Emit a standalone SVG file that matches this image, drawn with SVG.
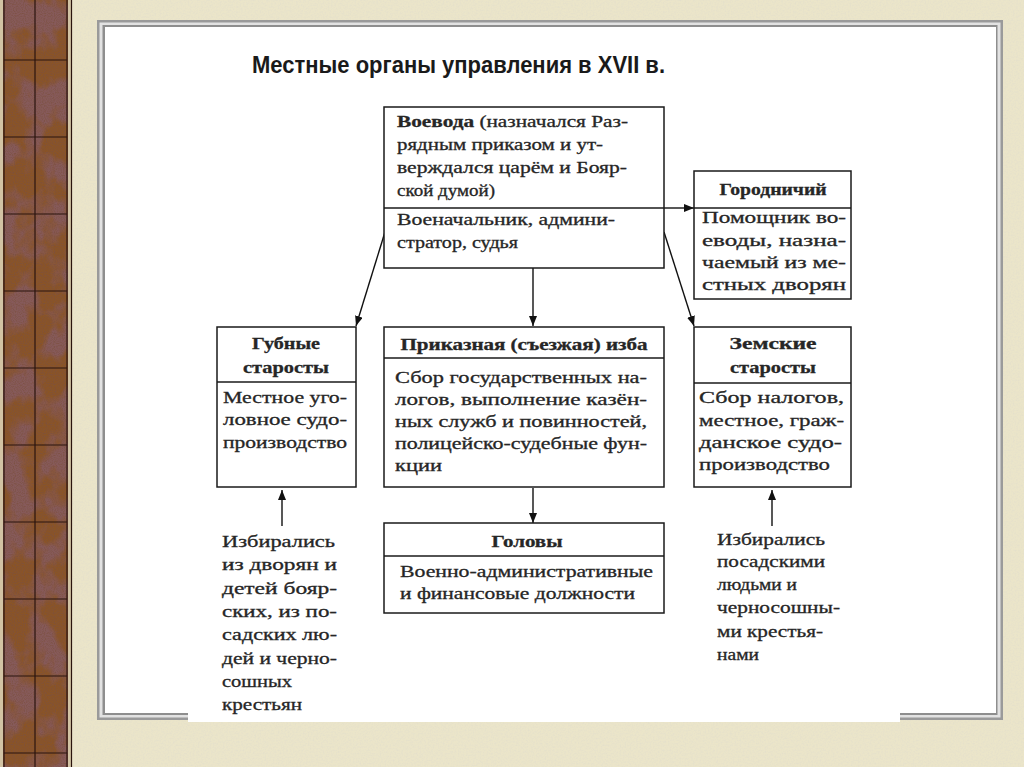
<svg xmlns="http://www.w3.org/2000/svg" width="1024" height="767" viewBox="0 0 1024 767">
<style>
.box{fill:#fff;stroke:#1a1a1a;stroke-width:1.5}
.div{stroke:#1a1a1a;stroke-width:1.5}
.t{font-family:"Liberation Serif","DejaVu Serif",serif;font-size:16px;fill:#262626;stroke:#262626;stroke-width:0.3}
.b{font-weight:bold}
.c{text-anchor:middle}
.conn{stroke:#111;stroke-width:1.4;fill:none}
.grid{stroke:#2a140e;stroke-width:1.2}
</style>
<defs>
<marker id="ah" viewBox="0 0 10 8" refX="10" refY="4" markerWidth="10" markerHeight="8" markerUnits="userSpaceOnUse" orient="auto">
<path d="M0,0 L10,4 L0,8 z" fill="#111"/>
</marker>
<filter id="mottle" x="0" y="0" width="100%" height="100%">
<feTurbulence type="fractalNoise" baseFrequency="0.035 0.025" numOctaves="4" seed="5"/>
<feColorMatrix type="matrix" values="0 0 0 0 0.24  0 0 0 0 0.1  0 0 0 0 0.1  5 0 0 0 -2.1"/>
<feComposite in2="SourceGraphic" operator="in"/>
</filter>
<filter id="grain" x="0" y="0" width="100%" height="100%">
<feTurbulence type="fractalNoise" baseFrequency="0.9" numOctaves="1" seed="8"/>
<feColorMatrix type="matrix" values="0 0 0 0 0.2  0 0 0 0 0.08  0 0 0 0 0.05  2 0 0 0 -0.8"/>
<feComposite in2="SourceGraphic" operator="in"/>
</filter>
<filter id="paper" x="0" y="0" width="100%" height="100%">
<feTurbulence type="fractalNoise" baseFrequency="0.6" numOctaves="2" seed="2"/>
<feColorMatrix type="matrix" values="0 0 0 0 0.75  0 0 0 0 0.72  0 0 0 0 0.6  1.2 0 0 0 -0.45"/>
<feComposite in2="SourceGraphic" operator="in"/>
</filter>
</defs>

<!-- background -->
<g id="background">
<rect x="0" y="0" width="1024" height="767" fill="#ebe5c9"/>
<rect x="72" y="0" width="952" height="767" fill="#000" filter="url(#paper)"/>
</g>

<!-- left decorative strip -->
<g id="strip">
<rect x="0" y="0" width="72" height="767" fill="#8a5426"/>
<rect x="0" y="0" width="72" height="767" fill="#000" filter="url(#mottle)"/>
<rect x="0" y="0" width="72" height="767" fill="#000" filter="url(#grain)"/>
<rect x="0" y="0" width="3" height="767" fill="#d2c3a4"/>
<line class="grid" x1="4" y1="0" x2="4" y2="767"/>
<line class="grid" x1="67" y1="0" x2="67" y2="767"/>
<rect x="68" y="0" width="3" height="767" fill="#d2c3a4"/>
<line class="grid" x1="71.5" y1="0" x2="71.5" y2="767"/>
<line class="grid" x1="35" y1="0" x2="35" y2="767"/>
<line class="grid" x1="4" y1="60" x2="67" y2="60"/>
<line class="grid" x1="4" y1="137" x2="67" y2="137"/>
<line class="grid" x1="4" y1="214" x2="67" y2="214"/>
<line class="grid" x1="4" y1="291" x2="67" y2="291"/>
<line class="grid" x1="4" y1="368" x2="67" y2="368"/>
<line class="grid" x1="4" y1="445" x2="67" y2="445"/>
<line class="grid" x1="4" y1="522" x2="67" y2="522"/>
<line class="grid" x1="4" y1="599" x2="67" y2="599"/>
<line class="grid" x1="4" y1="676" x2="67" y2="676"/>
<line class="grid" x1="4" y1="753" x2="67" y2="753"/>
</g>

<!-- frame -->
<g id="frame">
<rect x="97" y="20" width="906" height="700" fill="#9a9a9a"/>
<rect x="99.5" y="22.5" width="901" height="695" fill="#e2e2e2"/>
<rect x="102.5" y="25" width="895" height="690" fill="#8e8e8e"/>
<rect x="105" y="27" width="891" height="686" fill="#ffffff"/>
<rect x="188" y="700" width="712" height="22" fill="#ffffff"/>
</g>

<text id="title" x="252" y="73" font-family="'Liberation Sans Narrow','Liberation Sans',Arial,sans-serif" font-weight="bold" font-size="23" fill="#1a1a1a" textLength="413" lengthAdjust="spacingAndGlyphs">Местные органы управления в XVII в.</text>

<!-- connectors -->
<g id="connectors">
<line class="conn" x1="664" y1="208" x2="694" y2="208" marker-end="url(#ah)"/>
<line class="conn" x1="533" y1="268" x2="533" y2="326" marker-end="url(#ah)"/>
<line class="conn" x1="385" y1="232" x2="356" y2="326" marker-end="url(#ah)"/>
<line class="conn" x1="664" y1="232" x2="694" y2="326" marker-end="url(#ah)"/>
<line class="conn" x1="533" y1="488" x2="533" y2="523" marker-end="url(#ah)"/>
<line class="conn" x1="282" y1="526" x2="282" y2="490" marker-end="url(#ah)"/>
<line class="conn" x1="772" y1="526" x2="772" y2="490" marker-end="url(#ah)"/>
</g>

<!-- Voevoda -->
<g id="voevoda">
<rect class="box" x="384" y="107" width="280" height="161"/>
<line class="div" x1="384" y1="208" x2="664" y2="208"/>
<text class="t" x="397" y="127" textLength="231" lengthAdjust="spacingAndGlyphs"><tspan class="b">Воевода</tspan> (назначался Раз-</text>
<text class="t" x="397" y="150" textLength="206" lengthAdjust="spacingAndGlyphs">рядным приказом и ут-</text>
<text class="t" x="397" y="173" textLength="230" lengthAdjust="spacingAndGlyphs">верждался царём и Бояр-</text>
<text class="t" x="397" y="196" textLength="98" lengthAdjust="spacingAndGlyphs">ской думой)</text>
<text class="t" x="397" y="225" textLength="218" lengthAdjust="spacingAndGlyphs">Военачальник, админи-</text>
<text class="t" x="397" y="248" textLength="121" lengthAdjust="spacingAndGlyphs">стратор, судья</text>
</g>

<!-- Gorodnichiy -->
<g id="gorodnichiy">
<rect class="box" x="694" y="171" width="157" height="128"/>
<line class="div" x1="694" y1="208" x2="851" y2="208"/>
<text class="t b c" x="773" y="195" textLength="107" lengthAdjust="spacingAndGlyphs">Городничий</text>
<text class="t" x="702" y="223" textLength="144" lengthAdjust="spacingAndGlyphs">Помощник во-</text>
<text class="t" x="702" y="246" textLength="144" lengthAdjust="spacingAndGlyphs">еводы, назна-</text>
<text class="t" x="702" y="268" textLength="144" lengthAdjust="spacingAndGlyphs">чаемый из ме-</text>
<text class="t" x="702" y="290" textLength="144" lengthAdjust="spacingAndGlyphs">стных дворян</text>
</g>

<!-- Gubnye starosty -->
<g id="gubnye">
<rect class="box" x="217" y="327" width="139" height="160"/>
<line class="div" x1="217" y1="382" x2="356" y2="382"/>
<text class="t b c" x="286" y="349" textLength="68" lengthAdjust="spacingAndGlyphs">Губные</text>
<text class="t b c" x="286" y="373" textLength="86" lengthAdjust="spacingAndGlyphs">старосты</text>
<text class="t" x="223" y="403" textLength="124" lengthAdjust="spacingAndGlyphs">Местное уго-</text>
<text class="t" x="223" y="425" textLength="124" lengthAdjust="spacingAndGlyphs">ловное судо-</text>
<text class="t" x="223" y="448" textLength="124" lengthAdjust="spacingAndGlyphs">производство</text>
</g>

<!-- Prikaznaya izba -->
<g id="prikaznaya">
<rect class="box" x="384" y="327" width="280" height="160"/>
<line class="div" x1="384" y1="358" x2="664" y2="358"/>
<text class="t b c" x="524" y="350" textLength="247" lengthAdjust="spacingAndGlyphs">Приказная (съезжая) изба</text>
<text class="t" x="395" y="383" textLength="252" lengthAdjust="spacingAndGlyphs">Сбор государственных на-</text>
<text class="t" x="395" y="405" textLength="252" lengthAdjust="spacingAndGlyphs">логов, выполнение казён-</text>
<text class="t" x="395" y="427" textLength="252" lengthAdjust="spacingAndGlyphs">ных служб и повинностей,</text>
<text class="t" x="395" y="449" textLength="252" lengthAdjust="spacingAndGlyphs">полицейско-судебные фун-</text>
<text class="t" x="395" y="471" textLength="47" lengthAdjust="spacingAndGlyphs">кции</text>
</g>

<!-- Zemskie starosty -->
<g id="zemskie">
<rect class="box" x="694" y="327" width="157" height="160"/>
<line class="div" x1="694" y1="383" x2="851" y2="383"/>
<text class="t b c" x="773" y="349" textLength="87" lengthAdjust="spacingAndGlyphs">Земские</text>
<text class="t b c" x="773" y="373" textLength="86" lengthAdjust="spacingAndGlyphs">старосты</text>
<text class="t" x="699" y="403" textLength="145" lengthAdjust="spacingAndGlyphs">Сбор налогов,</text>
<text class="t" x="699" y="426" textLength="145" lengthAdjust="spacingAndGlyphs">местное, граж-</text>
<text class="t" x="699" y="448" textLength="143" lengthAdjust="spacingAndGlyphs">данское судо-</text>
<text class="t" x="699" y="470" textLength="131" lengthAdjust="spacingAndGlyphs">производство</text>
</g>

<!-- Golovy -->
<g id="golovy">
<rect class="box" x="384" y="523" width="280" height="90"/>
<line class="div" x1="384" y1="556" x2="664" y2="556"/>
<text class="t b c" x="527" y="547" textLength="71" lengthAdjust="spacingAndGlyphs">Головы</text>
<text class="t" x="400" y="577" textLength="253" lengthAdjust="spacingAndGlyphs">Военно-административные</text>
<text class="t" x="400" y="599" textLength="235" lengthAdjust="spacingAndGlyphs">и финансовые должности</text>
</g>

<!-- Left election note -->
<g id="note-left">
<text class="t" x="222" y="547" textLength="113" lengthAdjust="spacingAndGlyphs">Избирались</text>
<text class="t" x="222" y="570" textLength="115" lengthAdjust="spacingAndGlyphs">из дворян и</text>
<text class="t" x="222" y="594" textLength="115" lengthAdjust="spacingAndGlyphs">детей бояр-</text>
<text class="t" x="222" y="617" textLength="115" lengthAdjust="spacingAndGlyphs">ских, из по-</text>
<text class="t" x="222" y="640" textLength="115" lengthAdjust="spacingAndGlyphs">садских лю-</text>
<text class="t" x="222" y="664" textLength="115" lengthAdjust="spacingAndGlyphs">дей и черно-</text>
<text class="t" x="222" y="687" textLength="70" lengthAdjust="spacingAndGlyphs">сошных</text>
<text class="t" x="222" y="710" textLength="80" lengthAdjust="spacingAndGlyphs">крестьян</text>
</g>

<!-- Right election note -->
<g id="note-right">
<text class="t" x="717" y="545" textLength="108" lengthAdjust="spacingAndGlyphs">Избирались</text>
<text class="t" x="717" y="567" textLength="108" lengthAdjust="spacingAndGlyphs">посадскими</text>
<text class="t" x="717" y="590" textLength="80" lengthAdjust="spacingAndGlyphs">людьми и</text>
<text class="t" x="717" y="613" textLength="123" lengthAdjust="spacingAndGlyphs">черносошны-</text>
<text class="t" x="717" y="637" textLength="106" lengthAdjust="spacingAndGlyphs">ми крестья-</text>
<text class="t" x="717" y="660" textLength="42" lengthAdjust="spacingAndGlyphs">нами</text>
</g>
</svg>
